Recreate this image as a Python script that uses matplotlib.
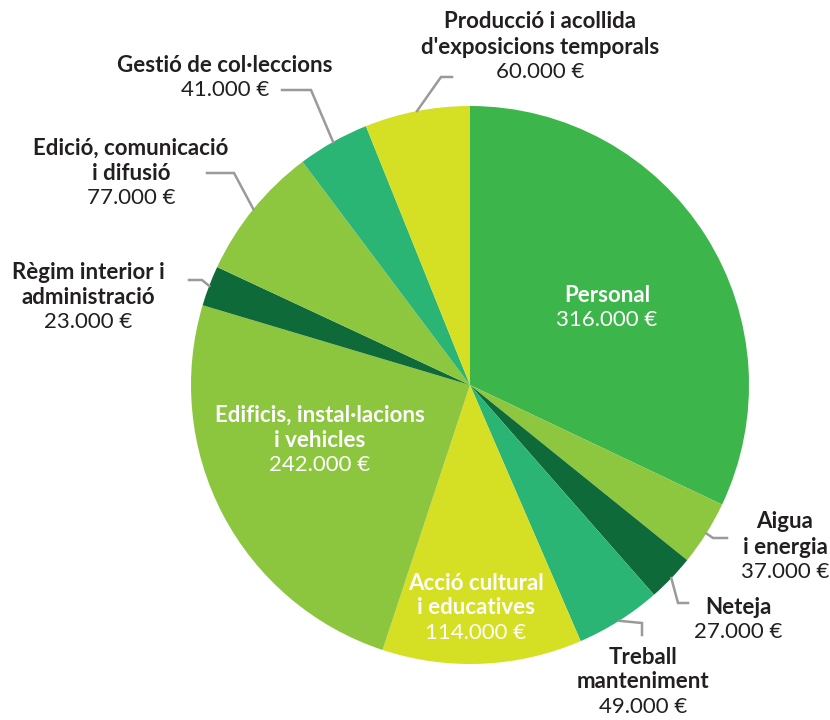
import numpy as np
import matplotlib
matplotlib.use("Agg")
import matplotlib.pyplot as plt

# Dades del pressupost (en euros)
categories = ["Personal", "Aigua\ni energia", "Neteja", "Treball\nmanteniment",
              "Acció cultural\ni educatives", "Edificis, instal·lacions\ni vehicles",
              "Règim interior i\nadministració", "Edició, comunicació\ni difusió",
              "Gestió de col·leccions", "Producció i acollida\nd'exposicions temporals"]
values = [316000, 37000, 27000, 49000, 114000, 242000, 23000, 77000, 41000, 60000]
colors = ["#3cb54a", "#8dc63f", "#0f6a39", "#2bb574", "#d5df24",
          "#8cc63f", "#0f6a39", "#8dc63f", "#2bb574", "#d5df24"]

FONT = ["Lato", "DejaVu Sans"]
CX, CY, R = 470, 385, 279  # centre i radi en píxels


def px(x, y):
    """Píxels de la imatge -> coordenades del pastís"""
    return (x - CX) / R, (CY - y) / R


def fmt(v):
    return f"{v:,.0f}".replace(",", ".") + " €"


fig = plt.figure(figsize=(8.3, 7.2), dpi=100)
ax = fig.add_axes([(CX - R) / 830, 1 - (CY + R) / 720, 2 * R / 830, 2 * R / 720])
wedges, _ = ax.pie(values, colors=colors, startangle=90, counterclock=False,
                   radius=1, wedgeprops=dict(linewidth=0))
ax.set_xlim(-1, 1)
ax.set_ylim(-1, 1)
ax.axis("off")

# Etiquetes: posició del text i punts de la línia guia
inside = {0: (607, 295), 4: (476, 583), 5: (320, 415)}
outside = {
    1: ((785, 522), [(713, 538), (727, 538)]),
    2: ((738, 607), [(678, 603), (688, 603)]),
    3: ((643, 657), [(642, 623), (642, 635)]),
    6: ((88, 272), [(202, 280), (189, 280)]),
    7: ((131, 148), [(234, 173), (207, 173)]),
    8: ((225, 65), [(311, 90), (282, 90)]),
    9: ((540, 22), [(441, 77), (452, 77)]),
}

for i, w in enumerate(wedges):
    name = categories[i]
    nlines = name.count("\n") + 1
    if i in inside:
        x0, y0 = inside[i]
        col = "white"
    else:
        (x0, y0), pts = outside[i]
        col = "#231f20"
        mid = np.deg2rad((w.theta1 + w.theta2) / 2)
        xs = [np.cos(mid)] + [px(*p)[0] for p in pts]
        ys = [np.sin(mid)] + [px(*p)[1] for p in pts]
        ax.plot(xs, ys, color="#9a9a9a", lw=1.8, clip_on=False,
                solid_joinstyle="miter")
    for k, line in enumerate(name.split("\n")):
        tx, ty = px(x0, y0 + 25 * k)
        ax.text(tx, ty, line, ha="center", va="center", fontsize=16,
                fontweight="bold", color=col, family=FONT, clip_on=False)
    tx, ty = px(x0, y0 + 25 * nlines)
    ax.text(tx, ty, fmt(values[i]), ha="center", va="center", fontsize=16,
            fontweight="normal", color=col, family=FONT, clip_on=False)

fig.savefig("out.png", dpi=100, facecolor="white")
